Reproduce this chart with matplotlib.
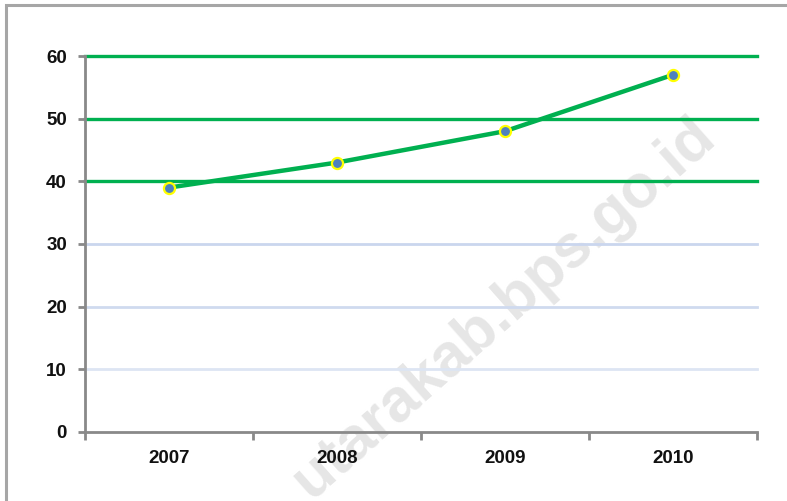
import matplotlib
matplotlib.use('Agg')
import matplotlib.pyplot as plt
from matplotlib.patches import Rectangle

# data
years = ['2007', '2008', '2009', '2010']
values = [39, 43, 48, 57]
y_ticks = [0, 10, 20, 30, 40, 50, 60]

# grid colours per level (green above 30, pale blue below)
grid_colors = {10: '#dde5f3', 20: '#cfdaef', 30: '#cad6ee',
               40: '#00b050', 50: '#00b050', 60: '#00b050'}

plt.rcParams['font.family'] = ['Liberation Sans', 'DejaVu Sans']

fig = plt.figure(figsize=(7.87, 5.01), dpi=100)
fig.patch.set_facecolor('white')

# grey outer frame (right and bottom run off the image)
fig.patches.append(Rectangle((6 / 787, -0.2), 1.2, 1 - 5 / 501 + 0.2,
                             transform=fig.transFigure, fill=False,
                             edgecolor='#a6a6a6', linewidth=2.2, zorder=-2))

# watermark, kept under the axes
fig.text(0.640, 0.383, 'utarakab.bps.go.id', fontsize=44, fontweight='bold',
         color='#e6e6e6', rotation=41.5, rotation_mode='anchor',
         ha='center', va='center', zorder=-1)

ax = fig.add_axes([85 / 787, 69 / 501, 672 / 787, 376 / 501])
ax.set_facecolor('none')

x = list(range(len(years)))
ax.set_xlim(-0.5, len(years) - 0.5)
ax.set_ylim(0, 60)

# gridlines
for yv, c in grid_colors.items():
    ax.axhline(yv, color=c, linewidth=2.4 if yv >= 40 else 2.0,
               zorder=1, clip_on=False)

ax.plot(x, values, color='#00b050', linewidth=3.2, zorder=3,
        marker='o', markersize=8, markerfacecolor='#4f81bd',
        markeredgecolor='#ffff00', markeredgewidth=1.6)

# axes styling
for s in ['top', 'right']:
    ax.spines[s].set_visible(False)
for s in ['left', 'bottom']:
    ax.spines[s].set_color('#898989')
    ax.spines[s].set_linewidth(2)

ax.set_yticks(y_ticks)
ax.set_yticklabels([str(v) for v in y_ticks])
ax.set_xticks([i - 0.5 for i in range(len(years) + 1)])
ax.set_xticklabels([])
ax.set_xticks(x, minor=True)
ax.set_xticklabels(years, minor=True)

ax.tick_params(axis='y', length=5, width=2, color='#898989', pad=8,
               labelsize=13.5, labelcolor='#111111')
ax.tick_params(axis='x', which='major', length=6, width=2, color='#898989')
ax.tick_params(axis='x', which='minor', length=0, pad=13,
               labelsize=13.5, labelcolor='#111111')
for lbl in ax.get_yticklabels() + ax.get_xticklabels(minor=True):
    lbl.set_fontweight('bold')

plt.savefig('out.png', dpi=100)
